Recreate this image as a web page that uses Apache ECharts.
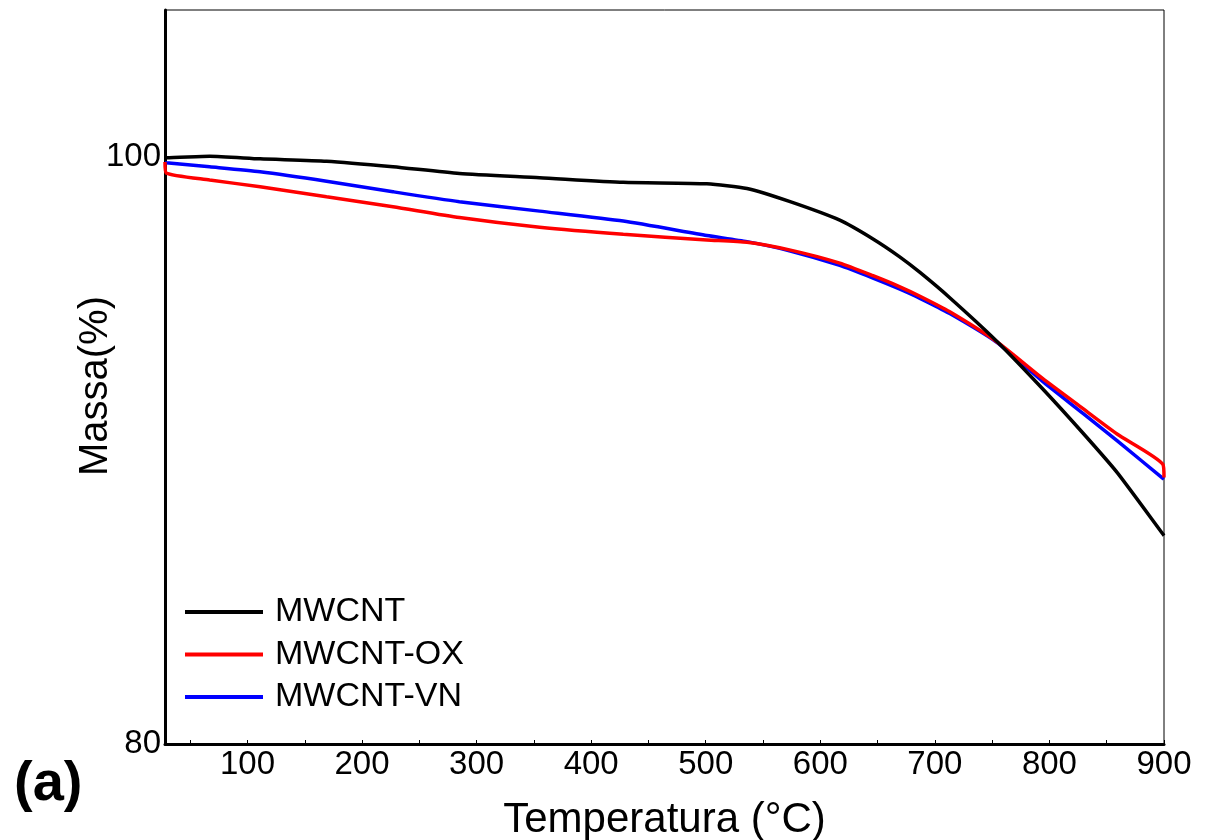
<!DOCTYPE html>
<html>
<head>
<meta charset="utf-8">
<title>TGA - MWCNT</title>
<script src="https://cdn.jsdelivr.net/npm/echarts@6/dist/echarts.min.js"></script>
<style>
  html, body { margin: 0; padding: 0; background: #ffffff; }
  #chart { width: 1206px; height: 840px; }
</style>
</head>
<body>
<div id="chart"></div>
<script>
// Temperature samples (°C) shared by the three curves
const temps = [28, 29, 67, 111, 169, 227, 285, 355, 428, 501, 536, 573, 617, 646, 669, 687, 713, 754, 794, 829, 859, 899, 900];

// Residual mass (%) for each sample
const massMWCNT   = [99.97, 99.97, 100.02, 99.93, 99.85, 99.66, 99.43, 99.29, 99.13, 99.08, 98.92, 98.48, 97.84, 97.20, 96.60, 96.06, 95.20, 93.72, 92.10, 90.60, 89.25, 87.15, 87.10];
const massOX      = [99.82, 99.45, 99.21, 98.98, 98.64, 98.30, 97.93, 97.60, 97.36, 97.17, 97.09, 96.83, 96.38, 95.95, 95.58, 95.25, 94.72, 93.70, 92.45, 91.43, 90.56, 89.53, 89.08];
const massVN      = [99.81, 99.80, 99.66, 99.49, 99.17, 98.81, 98.47, 98.15, 97.81, 97.32, 97.11, 96.80, 96.30, 95.87, 95.50, 95.18, 94.66, 93.68, 92.35, 91.27, 90.33, 89.05, 89.02];

const seriesNames  = ['MWCNT', 'MWCNT-OX', 'MWCNT-VN'];
const seriesColors = ['#000000', '#ff0000', '#0000ff'];

// Axis ticks and labels
const xLabelValues = [100, 200, 300, 400, 500, 600, 700, 800, 900];
const xTickValues  = [50, 100, 150, 200, 250, 300, 350, 400, 450, 500, 550, 600, 650, 700, 750, 800, 850, 900];
const yLabelValues = [80, 100];

const FONT = '"Liberation Sans", Arial, Helvetica, sans-serif';

function pairs(xs, ys) {
  return xs.map((x, i) => [x, ys[i]]);
}

const chart = echarts.init(document.getElementById('chart'), null, { renderer: 'canvas' });

const masses = [massMWCNT, massOX, massVN];

chart.setOption({
  backgroundColor: '#ffffff',
  animation: false,
  textStyle: { fontFamily: FONT, color: '#000' },
  title: {
    text: '(a)',
    left: 9,
    top: 752,
    textStyle: { fontFamily: FONT, fontSize: 56, fontWeight: 'bold', color: '#000' }
  },
  grid: {
    left: 165, right: 42, top: 10, bottom: 96,
    outerBoundsMode: 'none',
    show: true, borderColor: '#000', borderWidth: 1, backgroundColor: 'transparent'
  },
  legend: {
    orient: 'vertical',
    left: 185,
    top: 594,
    padding: 0,
    icon: 'rect',
    itemWidth: 78,
    itemHeight: 4,
    itemGap: 6.5,
    data: seriesNames,
    textStyle: { fontFamily: FONT, fontSize: 34, color: '#000', lineHeight: 36, padding: [0, 0, 0, 7] }
  },
  xAxis: {
    type: 'value',
    min: 28,
    max: 900,
    name: 'Temperatura (°C)',
    nameLocation: 'middle',
    nameGap: 55,
    nameMoveOverlap: false,
    nameTextStyle: { fontFamily: FONT, fontSize: 42, color: '#000' },
    axisLine: { show: true, lineStyle: { color: '#000', width: 3 } },
    axisTick: { show: true, inside: true, length: 4, customValues: xTickValues, lineStyle: { color: '#000', width: 1 } },
    axisLabel: { customValues: xLabelValues, fontFamily: FONT, fontSize: 33, color: '#000', margin: 4 },
    splitLine: { show: false }
  },
  yAxis: {
    type: 'value',
    min: 80,
    max: 105,
    name: 'Massa(%)',
    nameLocation: 'middle',
    nameGap: 49,
    nameMoveOverlap: false,
    nameRotate: 90,
    nameTextStyle: { fontFamily: FONT, fontSize: 40, color: '#000', padding: [0, 18, 0, 0] },
    axisLine: { show: true, lineStyle: { color: '#000', width: 3 } },
    axisTick: { show: false },
    axisLabel: { customValues: yLabelValues, fontFamily: FONT, fontSize: 33, color: '#000', margin: 4 },
    splitLine: { show: false }
  },
  series: seriesNames.map((name, i) => ({
    name: name,
    type: 'line',
    data: pairs(temps, masses[i]),
    smooth: 0.2,
    showSymbol: false,
    symbol: 'none',
    clip: true,
    z: 3 - i,
    itemStyle: { color: seriesColors[i] },
    lineStyle: { color: seriesColors[i], width: 3.5 }
  }))
});
</script>
</body>
</html>
